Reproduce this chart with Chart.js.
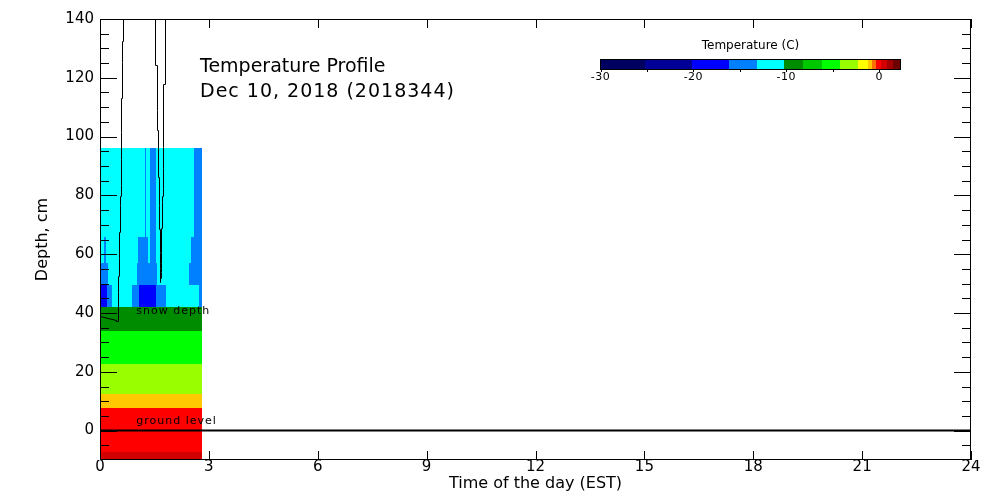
<!DOCTYPE html>
<html>
<head>
<meta charset="utf-8">
<title>Temperature Profile</title>
<script src="https://cdn.jsdelivr.net/npm/chart.js@4.4.1/dist/chart.umd.min.js"></script>
<style>
  body { margin: 0; background: #fff; }
  canvas { display: block; }
</style>
</head>
<body>
<canvas id="myChart" width="1000" height="500"></canvas>
<script>
// axis ticks
const xTickVals = [0, 3, 6, 9, 12, 15, 18, 21, 24];
const yTickVals = [0, 20, 40, 60, 80, 100, 120, 140];

// depth rows (cm), top to bottom, and the last measured time (h)
const depthEdges = [96, 66, 57, 49.5, 42, 34, 22.8, 12.6, 7.6, -7.4, -10];
const lastTime = 2.82;

// for each row: time where a segment starts, and its temperature (C)
const rowStarts = [
  [0, 1.23, 1.28, 1.385, 1.53, 2.58],
  [0, 0.115, 0.17, 1.06, 1.31, 1.385, 1.53, 2.515],
  [0, 0.215, 1.007, 1.58, 2.46],
  [0, 0.188, 0.326, 0.877, 1.062, 1.531, 1.807, 2.725],
  [0], [0], [0], [0], [0], [0]
];
const rowTemps = [
  [-11.5, -14.5, -11.5, -14.5, -11.5, -14.5],
  [-11.5, -14.5, -11.5, -14.5, -11.5, -14.5, -11.5, -14.5],
  [-14.5, -11.5, -14.5, -11.5, -14.5],
  [-18, -14.5, -11.5, -14.5, -18, -14.5, -11.5, -14.5],
  [-9.2], [-5.2], [-3.3], [-1.0], [0.0], [0.5]
];

// colour levels of the temperature bar
const levelEdges = [-30, -25.2, -20.2, -16.2, -13.2, -10.2, -8.2, -6.2, -4.2, -2.3, -1.2, -0.8, -0.3, 0.25, 0.8, 1.5, 2.3];
const levelColors = ['#000060', '#000096', '#0000ff', '#0080ff', '#00ffff', '#008c00', '#00c800', '#00ff00',
                     '#99ff00', '#ffff00', '#ffc800', '#ff6e00', '#ff0000', '#d20000', '#a50000', '#6e0000'];
const barTicks = [-30, -20, -10, 0];

// contour lines
const lineA_t = [0.629, 0.612, 0.585, 0.585, 0.538, 0.51, 0.491, 0.491, 0.428, 0.0];
const lineA_d = [140, 125.5, 101.6, 83.6, 76.8, 58.7, 47.1, 37.3, 37.6, 39.1];
const loop_t = [1.788, 1.732, 1.732, 1.705, 1.688, 1.669, 1.655, 1.65, 1.614, 1.594, 1.567, 1.512];
const loop_d = [140, 96.6, 82.6, 77.8, 60.4, 53.9, 50.5, 60.7, 76.8, 96.2, 109.1, 140];

// ground level
const ground_t = [0, 24];
const ground_d = [0, 0];

const FONT = 'DejaVu Sans';

function colorFor(v){
  for (let i = 0; i < levelColors.length; i++) {
    if (v < levelEdges[i+1]) return levelColors[i];
  }
  return levelColors[levelColors.length-1];
}

function pts(ts, ds){
  return ts.map((t, i) => ({x: t, y: ds[i]}));
}

const heatmap = {
  id: 'heatmap',
  beforeDatasetsDraw(chart){
    const {ctx, chartArea, scales: {x, y}} = chart;
    ctx.save();
    ctx.beginPath();
    ctx.rect(chartArea.left, chartArea.top, chartArea.width, chartArea.height);
    ctx.clip();
    rowStarts.forEach((starts, r) => {
      const y0 = Math.round(y.getPixelForValue(depthEdges[r]));
      const y1 = Math.round(y.getPixelForValue(depthEdges[r+1]));
      starts.forEach((t0, i) => {
        const t1 = i + 1 < starts.length ? starts[i+1] : lastTime;
        const x0 = Math.round(x.getPixelForValue(t0));
        const x1 = Math.round(x.getPixelForValue(t1));
        ctx.fillStyle = colorFor(rowTemps[r][i]);
        ctx.fillRect(x0, y0, x1 - x0, y1 - y0);
      });
    });

    // contour lines, snapped to pixels like the original plot
    ctx.strokeStyle = '#000';
    ctx.lineWidth = 1;
    [[lineA_t, lineA_d], [loop_t, loop_d]].forEach(([ts, ds]) => {
      ctx.beginPath();
      let px0, py0;
      ts.forEach((t, i) => {
        const px = Math.round(x.getPixelForValue(t)) + 0.5;
        const py = Math.round(y.getPixelForValue(ds[i])) + 0.5;
        if (i === 0) {
          ctx.moveTo(px, py);
        } else if (Math.abs(px - px0) <= 3) {
          const mid = Math.round((py0 + py) / 2) + 0.5;
          ctx.lineTo(px0, mid);
          ctx.lineTo(px, mid);
          ctx.lineTo(px, py);
        } else {
          ctx.lineTo(px, py);
        }
        px0 = px; py0 = py;
      });
      ctx.stroke();
    });
    ctx.restore();
  }
};

const decor = {
  id: 'decor',
  afterDraw(chart){
    const {ctx, chartArea: a, scales: {x, y}} = chart;
    ctx.save();
    ctx.strokeStyle = '#000';
    ctx.fillStyle = '#000';
    ctx.lineWidth = 1;

    // frame
    ctx.strokeRect(a.left + 0.5, a.top + 0.5, a.right - a.left - 1, a.bottom - a.top - 1);

    // inward ticks
    ctx.beginPath();
    xTickVals.forEach(v => {
      const px = Math.round(x.getPixelForValue(v)) + 0.5;
      ctx.moveTo(px, a.bottom); ctx.lineTo(px, a.bottom - 9);
      ctx.moveTo(px, a.top); ctx.lineTo(px, a.top + 9);
    });
    for (let v = -5; v < 140; v += 5) {
      const len = v % 20 === 0 ? 17 : 9;
      const py = Math.round(y.getPixelForValue(v)) + 0.5;
      ctx.moveTo(a.left, py); ctx.lineTo(a.left + len, py);
      ctx.moveTo(a.right, py); ctx.lineTo(a.right - len, py);
    }
    ctx.stroke();

    // labels in the plot
    ctx.textAlign = 'left';
    ctx.textBaseline = 'alphabetic';
    ctx.font = '11px "' + FONT + '"';
    ctx.letterSpacing = '1px';
    ctx.fillText('snow depth', x.getPixelForValue(1.0), y.getPixelForValue(depthEdges[4]) + 6.5);
    ctx.fillText('ground level', x.getPixelForValue(1.0), y.getPixelForValue(0) - 7);

    // title
    ctx.font = '19px "' + FONT + '"';
    ctx.letterSpacing = '0px';
    ctx.fillText('Temperature Profile', 200, 71.5);
    ctx.letterSpacing = '1px';
    ctx.fillText('Dec 10, 2018 (2018344)', 200, 96.5);
    ctx.letterSpacing = '0px';

    // colour bar
    const bx = 600.5, bw = 300, by = 59, bh = 11;
    const lo = levelEdges[0], hi = levelEdges[levelEdges.length-1];
    const barX = v => bx + (v - lo) / (hi - lo) * bw;
    levelColors.forEach((c, i) => {
      ctx.fillStyle = c;
      const x0 = Math.round(barX(levelEdges[i])), x1 = Math.round(barX(levelEdges[i+1]));
      ctx.fillRect(x0, by, x1 - x0, bh);
    });
    ctx.strokeRect(bx, by + 0.5, bw, bh - 1);
    ctx.beginPath();
    for (let v = -30; v <= 0; v += 5) {
      const px = Math.round(barX(v)) + 0.5;
      ctx.moveTo(px, by + bh); ctx.lineTo(px, by + bh + 2);
    }
    ctx.stroke();
    ctx.fillStyle = '#000';
    ctx.textAlign = 'center';
    ctx.textBaseline = 'middle';
    ctx.font = '11px "' + FONT + '"';
    ctx.letterSpacing = '0.5px';
    barTicks.forEach(v => ctx.fillText(String(v), barX(v), 77));
    ctx.letterSpacing = '0px';
    ctx.font = '12px "' + FONT + '"';
    ctx.fillText('Temperature (C)', bx + bw / 2, 45.5);

    ctx.restore();
  }
};

new Chart(document.getElementById('myChart'), {
  type: 'scatter',
  data: {
    datasets: [{
      data: pts(ground_t, ground_d),
      borderColor: '#000',
      backgroundColor: '#000',
      borderWidth: 2,
      showLine: true,
      pointRadius: 0
    }]
  },
  options: {
    responsive: false,
    animation: false,
    devicePixelRatio: 1,
    layout: {padding: {top: 19, right: 29, left: 0, bottom: 0}},
    plugins: {legend: {display: false}, tooltip: {enabled: false}},
    scales: {
      x: {
        type: 'linear', min: 0, max: 24,
        afterBuildTicks: s => { s.ticks = xTickVals.map(v => ({value: v})); },
        afterFit: s => { s.height = 40; },
        grid: {display: false, drawTicks: false},
        border: {display: false},
        ticks: {padding: 0, color: '#000', maxRotation: 0, autoSkip: false, font: {family: FONT, size: 15, lineHeight: 1}},
        title: {display: true, text: 'Time of the day (EST)', color: '#000', font: {family: FONT, size: 16}, padding: {top: 0, bottom: 7}}
      },
      y: {
        type: 'linear', min: -10, max: 140,
        afterBuildTicks: s => { s.ticks = yTickVals.map(v => ({value: v})); },
        afterFit: s => { s.width = 100; },
        grid: {display: false, drawTicks: false},
        border: {display: false},
        ticks: {padding: 6, color: '#000', font: {family: FONT, size: 15}},
        title: {display: true, text: 'Depth, cm', color: '#000', font: {family: FONT, size: 16}, padding: {top: 33, bottom: 0}}
      }
    }
  },
  plugins: [heatmap, decor]
});
</script>
</body>
</html>
